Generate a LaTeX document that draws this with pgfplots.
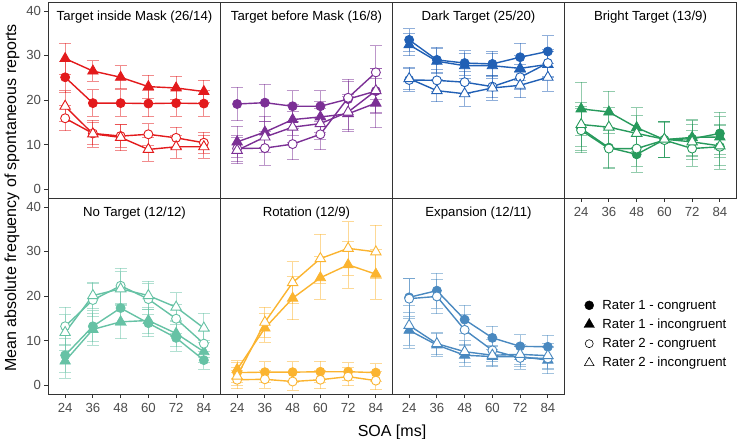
\documentclass[border=0pt]{standalone}
\usepackage{pgfplots}
\pgfplotsset{compat=1.18}
\usepackage{pgfplotstable}
\usepackage{fontspec}
\setmainfont{Liberation Sans}

\definecolor{cA}{HTML}{E31A1C}
\definecolor{cB}{HTML}{7B2F95}
\definecolor{cC}{HTML}{2160B5}
\definecolor{cD}{HTML}{279A5C}
\definecolor{cE}{HTML}{66C2A5}
\definecolor{cF}{HTML}{FBB430}
\definecolor{cG}{HTML}{4A89C0}
\definecolor{frame}{HTML}{333333}
\definecolor{tk}{HTML}{4D4D4D}

% columns: x | R1 congruent (y1,e1) | R1 incongruent (y2,e2) | R2 congruent (y3,e3) | R2 incongruent (y4,e4)
\pgfplotstableread{
x  y1   e1  y2   e2  y3   e3  y4   e4
24 25.1 3.5 29.3 3.5 15.9 2.8 18.6 3.5
36 19.3 3.0 26.5 2.3 12.5 2.5 12.4 3.0
48 19.3 3.0 25.1 2.6 11.9 2.5 11.6 3.0
60 19.2 3.0 23.0 2.6 12.3 2.4 8.9  2.6
72 19.3 3.0 22.7 2.6 11.5 2.4 9.5  2.6
84 19.2 2.9 21.9 2.5 10.4 2.4 9.5  2.6
}\tA
\pgfplotstableread{
x  y1   e1  y2   e2  y3   e3  y4   e4
24 19.1 3.8 10.6 3.5 9.1  3.0 8.7  3.0
36 19.4 4.2 12.8 3.5 9.2  3.8 11.7 3.5
48 18.6 3.5 15.6 3.5 10.1 3.5 13.9 3.5
60 18.6 3.5 16.2 3.5 12.3 3.5 14.7 3.5
72 20.2 4.0 16.9 4.0 20.5 4.2 17.3 4.0
84 22.0 5.0 19.3 5.5 26.2 6.0 22.1 5.0
}\tB
\pgfplotstableread{
x  y1   e1  y2   e2  y3   e3  y4   e4
24 33.5 2.5 32.4 2.5 24.5 2.5 24.8 2.5
36 29.0 2.8 28.7 2.8 24.4 2.5 22.1 2.5
48 28.3 2.8 27.7 2.8 24.0 2.5 21.4 2.8
60 28.1 2.8 27.7 2.8 23.0 2.5 22.7 2.8
72 29.6 3.2 27.1 2.8 25.1 2.8 23.3 2.8
84 30.9 3.5 28.0 3.0 28.3 3.0 25.1 3.1
}\tC
\pgfplotstableread{
x  y1   e1  y2   e2  y3   e3  y4   e4
24 13.6 5.0 18.0 6.0 13.2 5.0 14.5 5.0
36 9.3  4.5 17.3 4.7 9.1  4.5 13.9 4.5
48 7.8  4.0 13.8 4.5 9.1  4.0 12.5 4.0
60 11.1 4.0 11.1 4.0 11.0 4.0 11.2 4.0
72 11.3 4.0 11.6 4.0 9.1  4.0 10.6 4.0
84 12.5 4.8 11.7 4.5 9.5  5.0 9.7  4.5
}\tD
\pgfplotstableread{
x  y1   e1  y2   e2  y3   e3  y4   e4
24 6.7  3.8 5.4  3.8 13.2 4.3 11.8 4.0
36 13.2 3.5 12.5 3.5 19.1 3.8 20.1 3.0
48 17.3 3.8 14.2 3.8 22.3 3.9 21.6 3.8
60 13.9 3.0 14.5 3.0 19.3 3.5 20.1 3.2
72 10.6 3.0 11.6 3.0 14.9 3.3 17.5 3.2
84 5.6  2.0 7.5  2.5 9.3  3.0 12.8 3.3
}\tE
\pgfplotstableread{
x  y1   e1  y2   e2  y3   e3  y4   e4
24 2.8  2.3 3.5  2.0 1.2  2.0 2.0  2.0
36 2.9  2.3 12.8 3.2 1.3  2.0 14.1 3.4
48 2.9  2.3 19.5 4.8 0.8  2.0 23.0 4.7
60 3.0  2.3 24.1 4.8 1.2  2.0 28.4 5.5
72 3.0  2.0 27.0 5.3 1.9  2.0 30.7 6.0
84 2.8  2.0 24.9 5.6 1.0  2.0 29.9 6.0
}\tF
\pgfplotstableread{
x  y1   e1  y2   e2  y3   e3  y4   e4
24 19.7 4.2 12.3 4.0 19.4 4.5 13.4 4.5
36 21.2 3.9 9.0  2.5 19.9 3.9 9.3  2.5
48 14.7 3.2 6.7  2.5 12.4 3.5 7.5  2.5
60 10.6 2.6 6.4  2.3 7.8  2.5 6.7  2.3
72 8.7  2.6 6.4  2.3 6.1  2.5 6.9  2.3
84 8.6  2.6 5.6  3.0 6.0  2.5 6.6  2.8
}\tG

\newcommand{\tfont}{\fontsize{13.2}{15}\selectfont}

\pgfplotsset{
  panel/.style={
    scale only axis, width=172pt, height=196pt, anchor=south west,
    xmin=16.8, xmax=91.2, ymin=-2, ymax=42,
    axis line style={draw=frame, line width=0.9pt},
    tick align=outside, major tick length=4pt,
    tick style={draw=frame, line width=0.8pt},
    xtick={24,36,48,60,72,84}, ytick={0,10,20,30,40},
    tick pos=left,
    ticklabel style={font=\tfont, text=tk},
    xticklabel style={yshift=-1.5pt},
    /pgf/number format/assume math mode=true,
    clip=false,
  },
  nox/.style={xtick=\empty},
  noy/.style={ytick=\empty},
  ebar/.style={error bars/.cd, y dir=both, y explicit,
    error bar style={draw=#1, draw opacity=0.5, line width=0.9pt},
    error mark options={draw=#1, draw opacity=0.5, line width=0.9pt, mark size=6pt, rotate=90}},
}

\newcommand{\panel}[6]{%
\begin{axis}[panel, at={(#1pt,#2pt)}, #6]
\addplot[draw=#4, line width=1.4pt, mark=*, mark size=4.5pt,
  mark options={fill=#4, draw=#4, line width=0.8pt}, ebar=#4]
  table[x=x, y=y1, y error=e1]{#3};
\addplot[draw=#4, line width=1.4pt, mark=triangle*, mark size=6pt,
  mark options={fill=#4, draw=#4, line width=0.8pt}, ebar=#4]
  table[x=x, y=y2, y error=e2]{#3};
\addplot[draw=#4, line width=1.4pt, mark=*, mark size=4.5pt,
  mark options={fill=white, draw=#4, line width=0.9pt}, ebar=#4]
  table[x=x, y=y3, y error=e3]{#3};
\addplot[draw=#4, line width=1.4pt, mark=triangle*, mark size=6pt,
  mark options={fill=white, draw=#4, line width=0.9pt}, ebar=#4]
  table[x=x, y=y4, y error=e4]{#3};
\node[font=\tfont, text=black] at (rel axis cs:0.5,1) [yshift=-15pt] {#5};
\end{axis}}

\begin{document}
\begin{tikzpicture}
\path[use as bounding box] (0,0) rectangle (740pt,439pt);
\panel{48.5}{241}{\tA}{cA}{Target inside Mask (26/14)}{nox}
\panel{220.5}{241}{\tB}{cB}{Target before Mask (16/8)}{nox,noy}
\panel{392.5}{241}{\tC}{cC}{Dark Target (25/20)}{nox,noy}
\panel{564.5}{241}{\tD}{cD}{Bright Target (13/9)}{noy}
\panel{48.5}{45}{\tE}{cE}{No Target (12/12)}{}
\panel{220.5}{45}{\tF}{cF}{Rotation (12/9)}{noy}
\panel{392.5}{45}{\tG}{cG}{Expansion (12/11)}{noy}
\begin{axis}[at={(564.5pt,45pt)}, anchor=south west, scale only axis,
  width=172pt, height=196pt, hide axis, xmin=0, xmax=1, ymin=0, ymax=1,
  legend cell align=left,
  legend style={at={(0.095,0.305)}, anchor=west, draw=none, fill=none,
    font=\tfont, row sep=4.3pt,
    /tikz/every odd column/.append style={column sep=6pt}}]
\addlegendimage{only marks, mark=*, mark size=4.5pt, draw=black, fill=black}
\addlegendentry{Rater 1 - congruent}
\addlegendimage{only marks, mark=triangle*, mark size=6pt, draw=black, fill=black}
\addlegendentry{Rater 1 - incongruent}
\addlegendimage{only marks, mark=*, mark size=4pt, draw=black, fill=white, mark options={line width=0.6pt}}
\addlegendentry{Rater 2 - congruent}
\addlegendimage{only marks, mark=triangle*, mark size=5.5pt, draw=black, fill=white, mark options={line width=0.6pt}}
\addlegendentry{Rater 2 - incongruent}
\end{axis}
\node[rotate=90, font=\fontsize{16}{18}\selectfont] at (12pt,241pt) {Mean absolute frequency of spontaneous reports};
\node[font=\fontsize{16}{18}\selectfont] at (392pt,7pt) {SOA [ms]};
\end{tikzpicture}
\end{document}
